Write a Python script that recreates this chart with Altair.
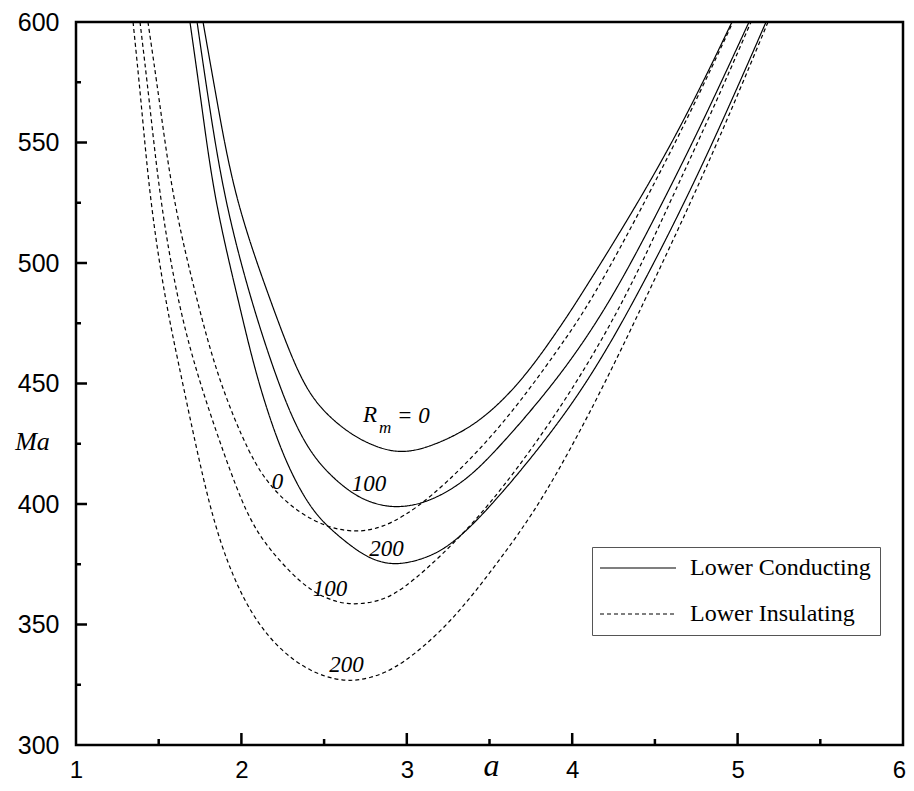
import altair as alt
import pandas as pd

# ---- curve data (a, Ma) ----
cond0_a = [1.768, 1.851, 1.961, 2.173, 2.354, 2.49, 2.657, 2.80, 2.94, 3.10, 3.364, 3.563, 3.75, 3.926, 4.035, 4.41, 4.70, 4.966]
cond0_m = [600, 567.6, 526.1, 484.6, 451.5, 438.5, 429, 424, 421.2, 422.5, 430.5, 441.5, 456, 473.4, 484.6, 526.1, 562, 600]

cond100_a = [1.732, 1.80, 1.897, 2.056, 2.215, 2.33, 2.457, 2.657, 2.80, 2.94, 3.122, 3.35, 3.563, 3.926, 4.24, 4.555, 4.80, 5.069]
cond100_m = [600, 567.6, 526.1, 484.6, 451.5, 432, 417, 404.5, 400, 398.3, 400.4, 409, 423.7, 452.7, 484.6, 526.1, 560, 600]

cond200_a = [1.689, 1.756, 1.836, 1.981, 2.094, 2.25, 2.40, 2.518, 2.717, 2.83, 2.94, 3.10, 3.28, 3.563, 4.035, 4.38, 4.688, 4.93, 5.172]
cond200_m = [600, 567.6, 526.1, 484.6, 451.5, 419.5, 400, 390.5, 379.5, 376, 374.7, 377, 383, 402.9, 443.2, 484.6, 526.1, 562, 600]

ins0_a = [1.435, 1.504, 1.585, 1.73, 1.86, 2.052, 2.19, 2.354, 2.518, 2.657, 2.84, 3.122, 3.563, 3.926, 4.12, 4.446, 4.72, 4.972]
ins0_m = [600, 567.6, 526.1, 484.6, 451.5, 419.5, 405.8, 396, 390.5, 388.4, 389.2, 400.4, 430.7, 465.1, 484.6, 526.1, 563, 600]

ins100_a = [1.387, 1.443, 1.508, 1.612, 1.739, 1.949, 2.052, 2.155, 2.354, 2.50, 2.638, 2.80, 2.959, 3.28, 3.563, 3.968, 4.32, 4.597, 4.84, 5.081]
ins100_m = [600, 567.6, 526.1, 484.6, 451.5, 410, 393.4, 382.2, 367.2, 361, 358.1, 359, 363, 383, 404.6, 443.2, 484.6, 526.1, 562, 600]

ins200_a = [1.345, 1.393, 1.447, 1.538, 1.641, 1.81, 1.949, 2.082, 2.233, 2.415, 2.614, 2.78, 2.959, 3.261, 3.563, 3.823, 4.15, 4.44, 4.724, 4.96, 5.184]
ins200_m = [600, 567.6, 526.1, 484.6, 451.5, 396.3, 369.3, 351.9, 339.4, 330.3, 326.1, 327.5, 332.5, 350, 376.8, 401.7, 443.2, 484.6, 526.1, 563, 600]

series_names = ["Lower Conducting", "Lower Insulating"]

# ---- annotation labels ----
label_text = ["0", "100", "200", "100", "200"]
label_a = [2.218, 2.771, 2.877, 2.536, 2.635]
label_m = [409.3, 408.5, 381.5, 364.9, 333.2]
rm_text = ["R", "= 0"]
rm_a = [2.735, 2.941]
rm_m = [436.9, 436.7]
sub_text = ["m"]
sub_a = [2.832]
sub_m = [431.5]

# ---- axis ticks ----
x_tick_labels = [1, 2, 3, 4, 5, 6]
y_tick_labels = [300, 350, 400, 450, 500, 550, 600]
x_major = [2, 3, 4, 5]
x_minor = [1.5, 2.5, 3.5, 4.5, 5.5]
y_major = [350, 400, 450, 500, 550]
y_minor = [325, 375, 425, 475, 525, 575]

rows = []
for name, kind, xs_, ys_ in [
    ("c0", series_names[0], cond0_a, cond0_m),
    ("c100", series_names[0], cond100_a, cond100_m),
    ("c200", series_names[0], cond200_a, cond200_m),
    ("i0", series_names[1], ins0_a, ins0_m),
    ("i100", series_names[1], ins100_a, ins100_m),
    ("i200", series_names[1], ins200_a, ins200_m),
]:
    for x, y in zip(xs_, ys_):
        rows.append({"a": x, "Ma": y, "curve": name, "kind": kind})
df = pd.DataFrame(rows)

W, H = 827, 723
xs = alt.Scale(domain=[1, 6], nice=False, zero=False)
ys = alt.Scale(domain=[300, 600], nice=False, zero=False)

x_axis = alt.Axis(values=x_tick_labels, format="d", title="a", ticks=False, domain=False, grid=False,
                  labelFont="Liberation Sans", labelFontSize=24, labelColor="black", labelPadding=13,
                  labelFlush=False, labelOverlap=False,
                  labelOffset={"condition": {"test": "datum.value == 6", "value": -4}, "value": 0},
                  titleFont="Liberation Serif", titleFontStyle="italic", titleFontWeight="normal",
                  titleFontSize=32, titleColor="black", titleX=415, titleY=30,
                  titleBaseline="alphabetic", titleAlign="center")
y_axis = alt.Axis(values=y_tick_labels, format="d", title="Ma", ticks=False, domain=False, grid=False,
                  labelFont="Liberation Sans", labelFontSize=25, labelColor="black", labelPadding=17,
                  labelFlush=False, labelOverlap=False,
                  titleFont="Liberation Serif", titleFontStyle="italic", titleFontWeight="normal",
                  titleFontSize=26, titleColor="black", titleAngle=0, titleX=-44, titleY=419,
                  titleBaseline="middle", titleAlign="center")

lines = alt.Chart(df).mark_line(color="black", strokeWidth=1.2, interpolate="basis").encode(
    x=alt.X("a:Q", scale=xs, axis=x_axis),
    y=alt.Y("Ma:Q", scale=ys, axis=y_axis),
    strokeDash=alt.StrokeDash(
        "kind:N",
        scale=alt.Scale(domain=series_names, range=[[1, 0], [4, 3]]),
        legend=alt.Legend(title=None, orient="none", legendX=516, legendY=525,
                          symbolType="M-1.3,0H6.3", symbolSize=400, symbolStrokeWidth=1.2,
                          symbolStrokeColor="black", symbolFillColor="transparent",
                          labelFont="Liberation Serif",
                          labelFontSize=24, labelColor="black", labelOffset=65, labelLimit=400,
                          rowPadding=22, padding=9, strokeColor="#555555", fillColor="white"),
    ),
    detail="curve:N",
)

lab_df = pd.DataFrame({"t": label_text, "a": label_a, "Ma": label_m})
labels = alt.Chart(lab_df).mark_text(font="Liberation Serif", fontStyle="italic", fontSize=23,
                                     color="black", align="center", baseline="middle").encode(
    x=alt.X("a:Q", scale=xs), y=alt.Y("Ma:Q", scale=ys), text="t:N")
rm_df = pd.DataFrame({"t": rm_text, "a": rm_a, "Ma": rm_m})
rm = alt.Chart(rm_df).mark_text(font="Liberation Serif", fontStyle="italic", fontSize=23,
                                color="black", align="left", baseline="middle").encode(
    x=alt.X("a:Q", scale=xs), y=alt.Y("Ma:Q", scale=ys), text="t:N")
sub_df = pd.DataFrame({"t": sub_text, "a": sub_a, "Ma": sub_m})
sub = alt.Chart(sub_df).mark_text(font="Liberation Serif", fontStyle="italic", fontSize=17,
                                  color="black", align="left", baseline="middle").encode(
    x=alt.X("a:Q", scale=xs), y=alt.Y("Ma:Q", scale=ys), text="t:N")

xmaj = alt.Chart(pd.DataFrame({"t": x_major})).mark_rule(color="black", strokeWidth=2.5).encode(
    x=alt.X("t:Q", scale=xs), y=alt.value(H), y2=alt.value(H - 12))
xmin = alt.Chart(pd.DataFrame({"t": x_minor})).mark_rule(color="black", strokeWidth=2.5).encode(
    x=alt.X("t:Q", scale=xs), y=alt.value(H), y2=alt.value(H - 6))
ymaj = alt.Chart(pd.DataFrame({"t": y_major})).mark_rule(color="black", strokeWidth=2.5).encode(
    y=alt.Y("t:Q", scale=ys), x=alt.value(0), x2=alt.value(11))
ymin = alt.Chart(pd.DataFrame({"t": y_minor})).mark_rule(color="black", strokeWidth=2.5).encode(
    y=alt.Y("t:Q", scale=ys), x=alt.value(0), x2=alt.value(5))

chart = alt.layer(lines, labels, rm, sub, xmaj, xmin, ymaj, ymin).properties(
    width=W, height=H,
    padding={"left": 68, "top": 14, "right": 3, "bottom": 38},
    autosize=alt.AutoSizeParams(type="none"),
).configure(background="white", view=alt.ViewConfig(stroke="black", strokeWidth=2.5))

chart.save("out.html", embed_options={"renderer": "svg", "actions": False})
